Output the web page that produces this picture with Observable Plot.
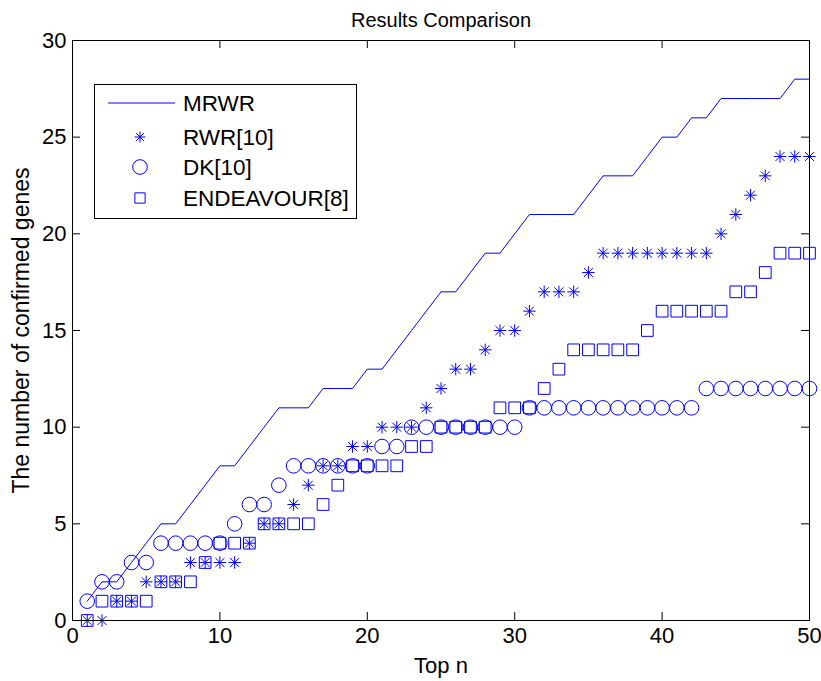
<!DOCTYPE html>
<html>
<head>
<meta charset="utf-8">
<script src="https://cdn.jsdelivr.net/npm/d3@7"></script>
<script src="https://cdn.jsdelivr.net/npm/@observablehq/plot@0.6"></script>
<style>
  html, body { margin: 0; padding: 0; background: #fff; }
  #wrap { position: relative; width: 821px; height: 681px; }
</style>
</head>
<body>
<div id="wrap"></div>
<script>
// ---- data ----
const topN = [1,2,3,4,5,6,7,8,9,10,11,12,13,14,15,16,17,18,19,20,21,22,23,24,25,26,27,28,29,30,31,32,33,34,35,36,37,38,39,40,41,42,43,44,45,46,47,48,49,50];
const mrwr = [1,2,2,3,4,5,5,6,7,8,8,9,10,11,11,11,12,12,12,13,13,14,15,16,17,17,18,19,19,20,21,21,21,21,22,23,23,23,24,25,25,26,26,27,27,27,27,27,28,28];
const rwr = [0,0,1,1,2,2,2,3,3,3,3,4,5,5,6,7,8,8,9,9,10,10,10,11,12,13,13,14,15,15,16,17,17,17,18,19,19,19,19,19,19,19,19,20,21,22,23,24,24,24];
const dk = [1,2,2,3,3,4,4,4,4,4,5,6,6,7,8,8,8,8,8,8,9,9,10,10,10,10,10,10,10,10,11,11,11,11,11,11,11,11,11,11,11,11,12,12,12,12,12,12,12,12];
const endeavour = [0,1,1,1,1,2,2,2,3,4,4,4,5,5,5,5,6,7,8,8,8,8,9,9,10,10,10,10,11,11,11,12,13,14,14,14,14,14,15,16,16,16,16,16,17,17,18,19,19,19];
const xTicks = [0,10,20,30,40,50];
const yTicks = [0,5,10,15,20,25,30];
const seriesNames = ["MRWR","RWR[10]","DK[10]","ENDEAVOUR[8]"];
const titleText = "Results Comparison";
const xLabel = "Top n";
const yLabel = "The number of confirmed genes";

const blue = "#0000ff";
const font = "'Liberation Sans', Arial, Helvetica, sans-serif";
const W = 821, H = 681, mL = 72, mR = 12, mT = 40, mB = 61;
const pw = W - mL - mR, ph = H - mT - mB, tick = 8;

const toRows = (vals) => topN.map((n, i) => ({n, v: vals[i]}));

// MATLAB-like asterisk (+ and x combined)
const asterisk = {
  draw(ctx, size) {
    const r = Math.sqrt(size / Math.PI);
    const d = r * 0.72;
    ctx.moveTo(0, -r); ctx.lineTo(0, r);
    ctx.moveTo(-r, 0); ctx.lineTo(r, 0);
    ctx.moveTo(-d, -d); ctx.lineTo(d, d);
    ctx.moveTo(-d, d); ctx.lineTo(d, -d);
  }
};

const chart = Plot.plot({
  width: W, height: H,
  marginLeft: mL, marginRight: mR, marginTop: mT, marginBottom: mB,
  style: {fontFamily: font, background: "white", color: "black"},
  x: {domain: [0, 50]},
  y: {domain: [0, 30]},
  marks: [
    Plot.line(toRows(mrwr), {x: "n", y: "v", stroke: blue, strokeWidth: 1}),
    Plot.dot(toRows(rwr), {x: "n", y: "v", symbol: asterisk, r: 6.2, stroke: blue, strokeWidth: 1, fill: "none"}),
    Plot.dot(toRows(dk), {x: "n", y: "v", symbol: "circle", r: 7.3, stroke: blue, strokeWidth: 1, fill: "none"}),
    Plot.dot(toRows(endeavour), {x: "n", y: "v", symbol: "square", r: 6.6, stroke: blue, strokeWidth: 1, fill: "none"}),
    Plot.tickX(xTicks, {x: d => d, insetTop: ph - tick, stroke: "black"}),
    Plot.tickX(xTicks, {x: d => d, insetBottom: ph - tick, stroke: "black"}),
    Plot.tickY(yTicks, {y: d => d, insetRight: pw - tick, stroke: "black"}),
    Plot.tickY(yTicks, {y: d => d, insetLeft: pw - tick, stroke: "black"}),
    Plot.frame({stroke: "black", strokeWidth: 1}),
    Plot.axisX(xTicks, {tickSize: 0, tickPadding: 7, fontSize: 22, label: null}),
    Plot.axisY(yTicks, {tickSize: 0, tickPadding: 6, fontSize: 22, label: null}),
    Plot.text([xLabel], {frameAnchor: "bottom", dy: 52, lineAnchor: "bottom", textAnchor: "middle", fontSize: 22, fill: "black"}),
    Plot.text([yLabel], {frameAnchor: "left", dx: -44, rotate: -90, lineAnchor: "bottom", textAnchor: "middle", fontSize: 23, fill: "black"}),
    Plot.text([titleText], {frameAnchor: "top", dy: -14, lineAnchor: "bottom", textAnchor: "middle", fontSize: 20, fill: "black"})
  ]
});

const wrap = document.getElementById("wrap");
wrap.appendChild(chart);

// ---- legend ----
const lx = 94, ly = 84, lw = 262, lh = 134;
const leg = d3.create("svg")
  .attr("width", lw + 1).attr("height", lh + 1)
  .style("position", "absolute").style("left", lx + "px").style("top", ly + "px")
  .style("font-family", font);
leg.append("rect").attr("x", 0.5).attr("y", 0.5).attr("width", lw).attr("height", lh)
  .attr("fill", "white").attr("stroke", "black");
const rowsY = [19, 53, 83, 114];
const markX = 46, textX = 89;
leg.append("line").attr("x1", 14).attr("x2", 81).attr("y1", rowsY[0]).attr("y2", rowsY[0])
  .attr("stroke", blue).attr("stroke-width", 1);
const sym = [null, asterisk, d3.symbolCircle, d3.symbolSquare];
const rs = [0, 5.5, 7.3, 5.8];
for (let i = 1; i < 4; i++) {
  leg.append("path")
    .attr("d", d3.symbol(sym[i], Math.PI * rs[i] * rs[i])())
    .attr("transform", `translate(${markX},${rowsY[i]})`)
    .attr("fill", "none").attr("stroke", blue).attr("stroke-width", 1);
}
seriesNames.forEach((s, i) => {
  leg.append("text").attr("x", textX).attr("y", rowsY[i]).attr("dy", "0.35em")
    .attr("font-size", 22.5).attr("fill", "black").text(s);
});
wrap.appendChild(leg.node());
</script>
</body>
</html>
